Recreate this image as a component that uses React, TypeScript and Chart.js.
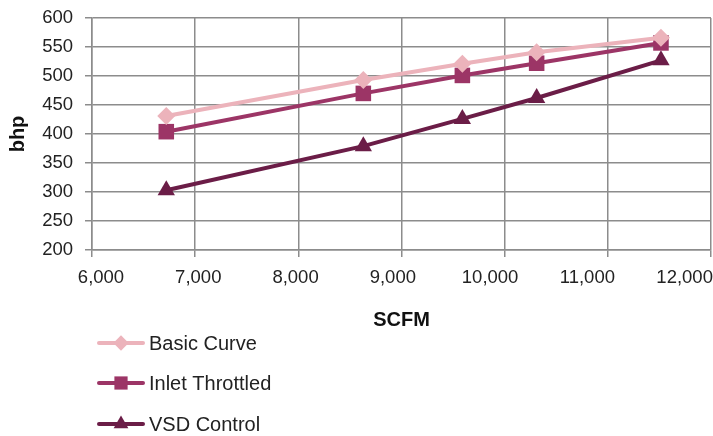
import React, { useEffect, useRef } from "react";
import { Chart, registerables } from "chart.js";

Chart.register(...registerables);

const seriesNames = ["Basic Curve", "Inlet Throttled", "VSD Control"];
const scfm = [6720, 8630, 9590, 10310, 11515];
const basicCurve = [431, 493, 521, 541, 566];
const inletThrottled = [404, 470, 501, 522, 557];
const vsdControl = [303, 379, 426, 462, 527];
const colors = ["#ECB3BB", "#9C3566", "#6B1D47"];
const markers = ["rectRot", "rect", "triangle"];
const markerRadius = [9, 11, 10];
const xTicks = { min: 6000, max: 12000, step: 1000 };
const xTickValues = [6000, 7000, 8000, 9000, 10000, 11000, 12000];
// the reference's tick labels sit on a slightly narrower spacing than its gridlines
const xLabelRange = { min: 5907.5, max: 12271 };
const yTicks = { min: 200, max: 600, step: 50 };

const FONT = "'Liberation Sans', Arial, Helvetica, sans-serif";

function drawMarker(ctx: CanvasRenderingContext2D, style: string, x: number, y: number, r: number) {
  ctx.beginPath();
  if (style === "rectRot") {
    ctx.moveTo(x - r, y);
    ctx.lineTo(x, y - r);
    ctx.lineTo(x + r, y);
    ctx.lineTo(x, y + r);
  } else if (style === "rect") {
    const s = Math.SQRT1_2 * r;
    ctx.rect(x - s, y - s, 2 * s, 2 * s);
  } else {
    ctx.moveTo(x, y - r);
    ctx.lineTo(x + Math.sin((2 * Math.PI) / 3) * r, y + 0.5 * r);
    ctx.lineTo(x - Math.sin((2 * Math.PI) / 3) * r, y + 0.5 * r);
  }
  ctx.closePath();
  ctx.fill();
}

const stackedLegend = {
  id: "stackedLegend",
  afterDraw(chart: any) {
    const ctx = chart.ctx as CanvasRenderingContext2D;
    const base = chart.scales.x2.bottom;
    const rowOffsets = [11, 51, 92];
    ctx.save();
    chart.data.datasets.forEach((ds: any, i: number) => {
      const y = base + rowOffsets[i];
      ctx.strokeStyle = ds.borderColor;
      ctx.fillStyle = ds.borderColor;
      ctx.lineWidth = 4;
      ctx.lineCap = "round";
      ctx.beginPath();
      ctx.moveTo(99, y);
      ctx.lineTo(143, y);
      ctx.stroke();
      drawMarker(ctx, ds.pointStyle, 121, y, ds.pointRadius * 0.85);
      ctx.fillStyle = "#222";
      ctx.font = `20px ${FONT}`;
      ctx.textBaseline = "middle";
      ctx.textAlign = "left";
      ctx.fillText(ds.label, 149, y + 1);
    });
    ctx.restore();
  },
};

export default function App() {
  const ref = useRef<HTMLCanvasElement>(null);
  useEffect(() => {
    document.body.style.margin = "0";
    const allSeries = [basicCurve, inletThrottled, vsdControl];
    const chart = new Chart(ref.current!, {
      type: "line",
      data: {
        datasets: allSeries.map((vals, i) => ({
          label: seriesNames[i],
          data: vals.map((v, j) => ({ x: scfm[j], y: v })),
          xAxisID: "x",
          yAxisID: "y",
          borderColor: colors[i],
          backgroundColor: colors[i],
          pointBackgroundColor: colors[i],
          pointBorderColor: colors[i],
          pointBorderWidth: 0,
          borderWidth: 4,
          pointStyle: markers[i] as any,
          pointRadius: markerRadius[i],
          tension: 0,
          fill: false,
        })),
      },
      options: {
        animation: false,
        responsive: false,
        layout: { autoPadding: false, padding: { top: 18, right: 2, bottom: 104, left: 0 } },
        plugins: { legend: { display: false }, tooltip: { enabled: false } },
        scales: {
          x: {
            type: "linear",
            position: "bottom",
            weight: 0,
            min: xTicks.min,
            max: xTicks.max,
            ticks: { stepSize: xTicks.step, display: false },
            grid: { color: "#8c8c8c", lineWidth: 1.5, tickLength: 7 },
            border: { color: "#8c8c8c", width: 1.5 },
            afterFit: (s: any) => {
              s.height = 7;
              s.paddingLeft = 0;
              s.paddingRight = 0;
            },
          },
          x2: {
            type: "linear",
            position: "bottom",
            weight: 1,
            min: xLabelRange.min,
            max: xLabelRange.max,
            afterBuildTicks: (s: any) => {
              s.ticks = xTickValues.map((v) => ({ value: v }));
            },
            ticks: {
              padding: 10,
              color: "#222",
              font: { family: FONT, size: 18.5 },
              callback: (v: any) => Number(v).toLocaleString("en-US"),
              maxRotation: 0,
              autoSkip: false,
            },
            grid: { display: false, drawTicks: false },
            border: { display: false },
            title: {
              display: true,
              text: "SCFM",
              color: "#111",
              font: { family: FONT, size: 20, weight: "bold" },
              padding: { top: 0, bottom: 0 },
            },
            afterFit: (s: any) => {
              s.height = 75;
              s.paddingLeft = 0;
              s.paddingRight = 0;
            },
          },
          y: {
            type: "linear",
            min: yTicks.min,
            max: yTicks.max,
            ticks: {
              stepSize: yTicks.step,
              padding: 12,
              color: "#222",
              font: { family: FONT, size: 18.5 },
            },
            grid: { color: "#8c8c8c", lineWidth: 1.5, tickLength: 7 },
            border: { color: "#8c8c8c", width: 1.5 },
            title: {
              display: true,
              text: "bhp",
              color: "#111",
              font: { family: FONT, size: 20, weight: "bold" },
              padding: { top: 6, bottom: 0 },
            },
            afterFit: (s: any) => {
              s.width = 92;
              s.paddingTop = 0;
              s.paddingBottom = 0;
            },
          },
        },
      },
      plugins: [stackedLegend],
    });
    return () => chart.destroy();
  }, []);
  return <canvas ref={ref} width={713} height={436} style={{ display: "block" }} />;
}
